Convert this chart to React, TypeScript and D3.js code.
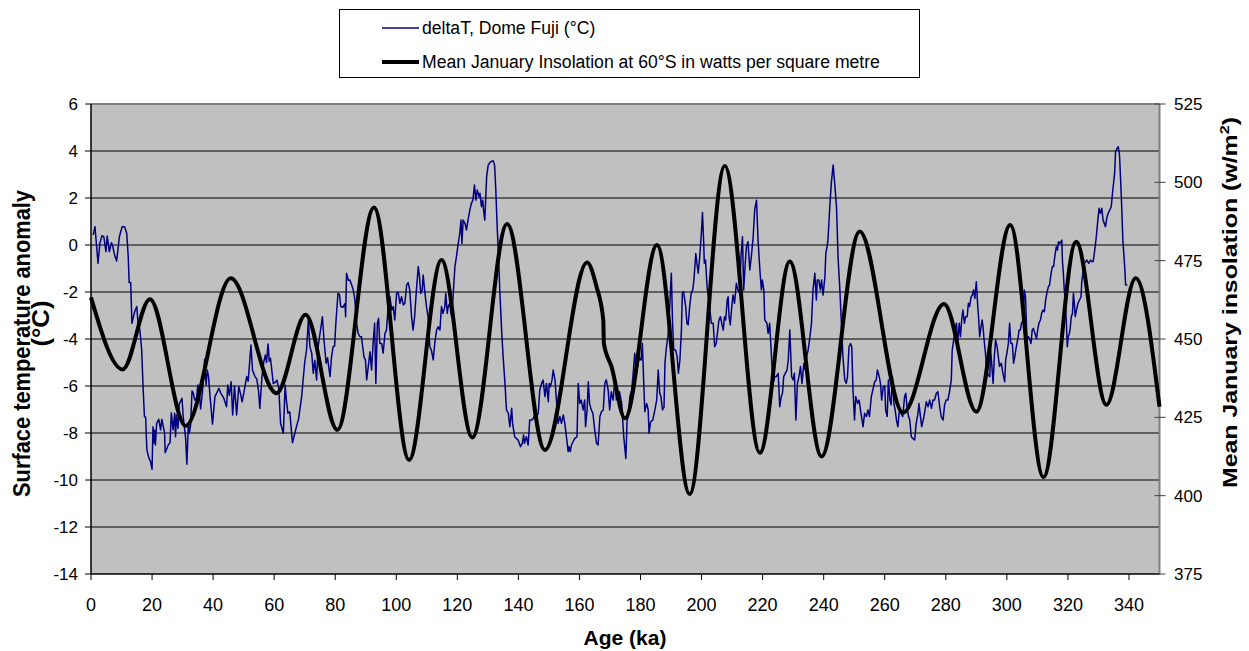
import React from "react";
import * as d3 from "d3";

// Dome Fuji temperature anomaly: [age in ka, deltaT in °C]
const deltaT: [number, number][] = [
  [0.75,0.43],[1.3,0.78],[2.3,-0.78],[2.9,0.07],[3.6,0.4],[4.2,0.35],[4.9,-0.28],[5.3,0.38],[6.0,-0.28],[6.7,0.1],[7.1,-0.03],[7.6,-0.36],[8.4,-0.68],[9.3,0.35],[10.2,0.78],[11.0,0.78],[11.7,0.5],[12.2,-0.5],[12.5,-1.6],[13.0,-1.6],[13.4,-3.33],[14.3,-2.84],[15.0,-2.62],[15.4,-3.33],[16.0,-3.6],
  [16.6,-4.47],[17.1,-6.17],[17.5,-7.3],[17.9,-7.33],[18.3,-8.72],[19.0,-9.08],[19.5,-9.22],[20.0,-9.54],[20.3,-7.73],[20.5,-8.44],[20.8,-7.87],[21.1,-8.51],[21.5,-7.59],[22.2,-7.42],[22.8,-7.87],[23.2,-7.42],[24.1,-7.98],[24.3,-8.84],[25.3,-8.51],[25.9,-8.41],[26.3,-7.14],[26.9,-7.87],[27.4,-7.16],[27.7,-8.16],[28.0,-7.23],[28.5,-7.8],[28.9,-6.77],[29.8,-6.52],[30.2,-7.3],[31.0,-8.23],[31.4,-9.33],[31.9,-7.59],[32.2,-8.0],[32.6,-7.7],[33.1,-6.21],[33.5,-6.3],[34.0,-6.6],[34.6,-6.5],[35.0,-5.96],[35.4,-6.1],[35.9,-6.98],[36.4,-6.4],[37.0,-5.46],[37.2,-4.86],[37.7,-5.96],[38.1,-5.32],[38.5,-5.6],[39.0,-6.45],[39.8,-7.62],[40.6,-6.45],[41.4,-6.24],[41.9,-6.1],[42.5,-6.3],[43.5,-6.52],[44.4,-6.88],[44.8,-5.96],[45.3,-6.4],[45.9,-5.82],[46.4,-7.23],[47.0,-6.0],[47.7,-7.23],[48.4,-6.03],[49.1,-6.4],[49.5,-6.67],[50.2,-6.2],[51.0,-5.6],[51.5,-5.8],[52.1,-4.75],[52.4,-4.26],[52.9,-5.32],[53.7,-5.6],[54.3,-5.7],[54.9,-6.24],[55.3,-6.95],[56.0,-5.6],[56.6,-4.97],[57.1,-4.68],[57.5,-5.0],[58.0,-4.21],[58.4,-4.95],[58.8,-4.82],[59.7,-5.89],[60.3,-5.85],[60.9,-5.75],[61.5,-6.1],[62.1,-7.59],[63.0,-8.01],[63.6,-5.96],[64.0,-6.6],[64.5,-7.16],[65.1,-7.1],[66.0,-8.41],[66.6,-8.1],[67.3,-7.73],[68.0,-7.4],[69.0,-6.45],[70.0,-5.0],[70.6,-4.47],[71.2,-3.19],[71.7,-4.33],[72.3,-4.6],[72.8,-5.46],[73.3,-4.9],[73.9,-5.74],
  [74.4,-4.33],[75.8,-3.05],[76.3,-4.0],[77.0,-5.03],[77.5,-4.8],[78.0,-5.32],[78.3,-5.6],[78.8,-4.75],[79.3,-4.33],[79.8,-4.3],[80.2,-3.33],[80.9,-2.06],[81.4,-2.1],[81.8,-2.62],[82.5,-2.65],[83.2,-2.5],[83.4,-3.05],[83.7,-1.2],[84.3,-1.5],[84.8,-1.49],[85.4,-1.7],[85.9,-1.91],[86.4,-2.3],[87.0,-3.33],[87.5,-3.76],[88.1,-3.9],[88.6,-3.9],[89.0,-4.33],[89.4,-4.75],[89.9,-4.9],[90.3,-5.74],[90.8,-5.2],[91.4,-4.54],[91.9,-5.32],[92.4,-4.19],[92.9,-3.33],[93.3,-5.89],[93.8,-3.33],[94.2,-3.12],[94.6,-4.19],[95.2,-4.19],[95.7,-4.6],[96.3,-3.76],[96.8,-3.62],[97.4,-2.48],[97.9,-2.2],[98.5,-2.77],[99.0,-2.62],[99.5,-3.19],[100.1,-2.06],[100.6,-2.0],[101.2,-2.48],[101.7,-2.2],[102.3,-2.55],[102.8,-2.48],[103.4,-1.7],[103.9,-1.6],[104.4,-1.91],[105.0,-3.05],[105.5,-3.62],[106.0,-3.05],[106.6,-1.91],[107.2,-0.92],[107.6,-1.35],[108.0,-2.06],[108.5,-1.9],[108.8,-1.28],[109.4,-2.06],[109.9,-2.62],[110.4,-3.05],[111.0,-4.33],[111.5,-4.47],[112.1,-4.89],[112.6,-4.19],[113.2,-3.62],[113.7,-3.48],[114.3,-3.62],[114.8,-2.62],[115.3,-2.91],[115.9,-2.62],[116.2,-2.06],[116.7,-2.91],[117.0,-2.62],[117.5,-2.48],[118.1,-3.05],[118.6,-2.2],[119.2,-0.92],[119.7,-0.5],[120.3,0.07],[120.8,0.5],[121.2,1.06],[121.5,0.07],[121.9,1.06],[122.5,0.92],[123.0,0.64],[123.5,1.06],[124.1,1.49],[124.6,1.77],[125.1,1.91],[125.6,2.55],[126.1,1.91],[126.5,2.34],[127.1,2.06],[127.4,2.2],[127.9,1.63],[128.3,1.91],[128.7,1.35],[129.0,1.06],[129.6,2.91],[130.1,3.4],[130.9,3.54],[131.7,3.59],[132.2,3.4],[132.6,2.34],[133.0,0.92],[133.5,-0.5],[133.9,-1.91],[134.5,-3.62],[135.0,-4.75],[135.6,-5.89],[136.1,-7.02],[136.7,-7.16],[137.2,-7.73],[137.8,-6.95],[138.1,-7.6],[138.8,-8.16],[139.3,-8.23],[139.9,-8.3],[140.7,-8.58],[141.3,-8.44],[141.7,-8.09],[142.0,-8.44],[142.6,-8.16],[143.2,-8.51],[143.7,-7.45],[144.3,-7.45],[144.8,-7.4],[145.4,-7.23],[146.0,-7.3],[146.5,-7.16],[147.0,-6.17],[147.6,-5.89],[148.1,-5.75],[148.7,-6.45],[149.2,-5.89],[149.8,-6.67],[150.1,-5.89],[150.5,-6.03],[151.0,-5.75],[151.4,-5.32],[152.0,-5.75],[152.5,-6.67],[153.0,-7.59],[153.6,-7.3],[154.1,-7.59],[154.7,-7.23],[155.2,-7.59],[155.8,-8.23],[156.3,-8.79],[156.6,-8.58],[157.0,-8.79],[157.4,-8.51],[157.9,-8.37],[158.5,-8.23],[159.2,-8.16],[159.6,-5.89],[160.1,-6.74],[160.6,-6.6],[161.2,-7.02],[161.7,-6.6],[162.0,-7.73],[162.5,-7.02],[162.9,-5.82],[163.3,-6.74],[163.9,-7.02],[164.4,-7.16],[165.0,-7.87],[165.6,-8.44],[166.1,-8.51],[166.7,-7.3],[167.2,-7.1],[167.8,-7.02],[168.3,-5.89],[168.8,-5.74],[169.4,-6.17],[169.9,-7.02],[170.4,-6.24],[171.0,-6.6],[171.6,-5.74],[172.1,-6.6],[172.6,-6.24],[173.1,-6.24],[173.8,-6.7],[174.1,-7.3],[174.5,-8.16],[175.2,-9.08],[175.6,-7.45],[176.0,-7.3],[176.5,-6.45],[177.1,-6.17],[177.6,-5.46],[178.1,-4.61],[178.7,-5.46],[179.2,-5.03],[179.7,-4.8],[180.2,-4.9],[180.6,-4.19],[180.9,-5.3],[181.4,-7.09],[182.0,-6.74],[182.5,-7.0],[182.8,-8.01],[183.3,-7.52],[184.0,-7.45],[184.7,-7.02],[185.3,-6.6],[185.8,-5.32],[186.3,-6.31],[186.7,-6.45],[187.2,-7.02],[187.7,-6.9],[188.0,-5.03],[188.5,-4.33],[189.0,-3.9],[189.5,-2.8],[190.1,-1.2],[190.5,-3.33],[190.9,-4.47],[191.5,-4.47],[192.0,-4.75],[192.4,-5.46],[192.9,-4.9],[193.4,-3.62],[193.7,-2.06],[194.1,-1.98],[194.8,-2.62],[195.2,-3.33],[195.6,-3.4],[196.1,-2.62],[196.6,-2.06],[197.1,-1.91],[197.5,-1.49],[198.1,-0.36],[198.5,-0.78],[198.9,-1.2],[199.4,-0.5],[200.0,0.64],[200.3,1.38],[200.7,0.07],[200.9,-0.78],[201.3,-0.64],[201.8,-1.77],[202.2,-2.2],[202.6,-2.62],[203.2,-3.33],[203.8,-3.33],[204.3,-4.33],[204.8,-4.19],[205.3,-3.62],[205.7,-3.19],[206.2,-3.05],[206.6,-3.33],[207.1,-3.62],[207.5,-3.05],[207.9,-3.19],[208.4,-2.34],[208.7,-2.2],[209.0,-3.05],[209.4,-3.4],[209.9,-2.62],[210.3,-2.13],[210.8,-2.48],[211.4,-1.63],[211.9,-1.91],[212.5,-2.06],[212.9,-0.5],[213.4,0.35],[213.8,-1.91],[214.3,-0.78],[214.7,-0.07],[215.2,0.14],[215.8,-1.06],[216.3,-0.5],[216.9,0.35],[217.4,1.49],[218.0,1.91],[218.5,0.21],[219.1,-1.06],[219.6,-1.91],[219.9,-1.49],[220.4,-1.91],[220.7,-3.19],[221.4,-3.33],[221.8,-3.76],[222.3,-3.33],[222.9,-4.75],[223.4,-5.89],[224.0,-5.6],[224.5,-5.6],[225.1,-5.46],[225.6,-6.88],[226.1,-6.45],[226.5,-6.31],[226.9,-5.6],[227.4,-5.46],[228.0,-5.32],[228.4,-4.89],[228.9,-3.62],[229.5,-5.6],[230.0,-5.74],[230.4,-5.46],[230.9,-7.45],[231.4,-5.89],[231.9,-5.6],[232.4,-5.17],[232.9,-5.89],[233.5,-5.03],[234.0,-5.32],[234.4,-4.75],[234.9,-4.47],[235.5,-3.9],[236.0,-3.33],[236.5,-1.91],[237.1,-1.2],[237.6,-2.34],[237.9,-1.49],[238.4,-1.49],[238.9,-1.91],[239.3,-1.49],[239.8,-2.13],[240.4,-1.35],[240.7,-0.36],[241.1,-0.07],[241.4,0.21],[242.0,1.63],[242.5,2.63],[243.1,3.4],[243.6,2.63],[244.2,1.63],[244.7,-0.5],[245.3,-1.91],[245.8,-3.33],[246.3,-4.75],[246.9,-5.74],[247.4,-5.89],[247.8,-5.6],[248.3,-4.33],[248.8,-4.19],[249.2,-4.33],[249.6,-6.17],[250.1,-7.45],[250.5,-6.45],[251.1,-6.74],[251.6,-6.6],[252.2,-7.16],[252.9,-7.73],[253.4,-7.16],[254.0,-7.3],[254.5,-7.02],[255.0,-7.3],[255.6,-6.45],[256.1,-6.17],[256.7,-5.82],[257.2,-5.75],[257.6,-5.32],[258.2,-5.6],[258.6,-5.89],[259.0,-6.6],[259.5,-6.03],[260.0,-6.0],[260.3,-7.02],[260.8,-7.3],[261.2,-5.74],[261.7,-6.6],[262.1,-6.8],[262.5,-5.6],[263.0,-6.74],[263.4,-7.02],[263.9,-7.5],[264.3,-7.73],[264.8,-7.02],[265.3,-7.16],[265.9,-7.3],[266.5,-6.45],[266.9,-6.31],[267.3,-6.9],[267.8,-7.3],[268.2,-7.45],[268.7,-8.16],[269.2,-8.23],[269.8,-8.3],[270.3,-7.59],[270.9,-7.16],[271.2,-6.74],[271.7,-7.3],[272.1,-7.73],[272.6,-7.45],[273.1,-7.1],[273.6,-6.67],[274.2,-6.88],[274.7,-6.6],[275.3,-6.95],[275.8,-6.6],[276.3,-6.6],[276.9,-6.31],[277.4,-6.24],[278.0,-6.88],[278.5,-7.3],[279.1,-7.45],[279.6,-6.81],[280.1,-6.6],[280.7,-6.6],[281.3,-6.17],[281.8,-5.74],[282.1,-4.47],[282.6,-4.04],[283.0,-3.62],[283.5,-3.33],[283.9,-4.19],[284.4,-3.33],[284.8,-3.9],[285.2,-3.19],[285.6,-2.77],[286.1,-3.33],[286.5,-3.05],[287.0,-3.05],[287.4,-2.48],[287.8,-2.62],[288.3,-2.2],[288.7,-2.13],[289.1,-1.91],[289.5,-2.27],[290.0,-1.56],[290.4,-2.48],[290.8,-3.19],[291.1,-3.9],[291.4,-3.62],[291.9,-3.19],[292.2,-3.48],[292.5,-3.98],[293.0,-4.61],[293.3,-5.17],[293.8,-5.53],[294.4,-5.6],[294.7,-4.47],[295.1,-5.17],[295.5,-5.89],[295.9,-4.75],[296.3,-4.04],[296.8,-4.33],[297.2,-4.75],[297.6,-5.17],[298.2,-5.03],[298.7,-5.46],[299.3,-5.82],[299.6,-4.9],[300.0,-4.61],[300.5,-4.19],[300.9,-3.33],[301.3,-4.19],[301.8,-4.19],[302.2,-5.03],[302.6,-4.75],[303.1,-4.33],[303.7,-3.9],[304.0,-3.62],[304.4,-3.62],[304.8,-3.33],[305.3,-3.19],[305.7,-1.91],[306.1,-2.2],[306.6,-4.04],[307.0,-3.9],[307.4,-3.98],[307.9,-4.19],[308.3,-3.62],[308.7,-3.55],[309.2,-3.76],[309.7,-3.98],[310.1,-3.62],[310.5,-3.33],[311.0,-3.19],[311.4,-2.91],[311.8,-2.77],[312.3,-2.84],[312.7,-2.34],[313.1,-2.06],[313.6,-1.77],[314.0,-1.7],[314.4,-1.28],[314.9,-0.92],[315.3,-0.92],[315.7,-0.5],[316.2,-0.07],[316.6,-0.21],[316.9,0.14],[317.4,0.07],[318.0,0.21],[318.2,-0.64],[318.5,-1.2],[318.8,-1.91],[319.2,-2.48],[319.5,-3.33],[319.8,-4.33],[320.1,-3.9],[320.5,-3.76],[320.8,-3.48],[321.1,-3.05],[321.5,-2.91],[321.8,-2.06],[322.1,-2.48],[322.4,-3.05],[322.8,-2.77],[323.3,-2.48],[323.8,-2.34],[324.3,-2.2],[324.5,-1.63],[324.9,-1.2],[325.4,-0.78],[326.2,-0.64],[326.8,-0.78],[327.4,-0.64],[327.9,-0.71],[328.3,-0.7],[328.8,-0.21],[329.3,0.35],[329.8,1.06],[330.2,1.56],[330.6,1.35],[331.1,1.56],[331.5,1.06],[331.9,0.92],[332.3,0.78],[332.8,1.2],[333.2,1.35],[333.7,1.49],[334.2,1.63],[334.7,2.34],[335.3,3.05],[335.6,3.97],[336.1,4.11],[336.5,4.18],[336.9,3.83],[337.5,2.06],[338.0,0.21],[338.6,-0.92],[338.9,-1.7],[339.5,-1.7],
];

// Mean January insolation at 60°S: [age in ka, W/m²] at turning points and bends
const insolation: [number, number][] = [
  [0,463.3],[10.4,440.3],[19.3,462.7],[31.0,422.3],[45.8,469.4],[60.8,432.7],[70.3,457.7],[80.7,421.0],[92.7,492.0],[104.2,411.4],[114.8,475.2],[124.9,418.6],[136.3,486.7],[148.7,414.6],[162.5,474.4],[165.5,467.0],[167.8,456.1],[168.0,448.6],[170.5,441.2],[174.9,424.7],[185.4,480.0],[196.1,400.5],[207.6,505.2],[219.1,413.7],[228.9,474.7],[239.3,412.5],[251.8,484.3],[266.0,426.5],[279.4,461.2],[290.0,426.8],[301.1,486.4],[312.0,405.9],[322.7,481.0],[332.6,429.0],[342.2,469.4],[350,428.4],
];

const ageTicks = d3.range(0, 341, 20);
const tempTicks = d3.range(-14, 7, 2);
const insolationTicks = [375, 400, 425, 450, 475, 500, 525];

const legendLabels = ["deltaT, Dome Fuji (°C)", "Mean January Insolation at 60°S in watts per square metre"];

const W = 1249;
const H = 651;
const plot = { left: 91, right: 1159.5, top: 104, bottom: 574 };
const FONT = "'Liberation Sans', Arial, Helvetica, sans-serif";

export default function App() {
  const x = d3.scaleLinear().domain([0, 350]).range([plot.left, plot.right]);
  const yL = d3.scaleLinear().domain([-14, 6]).range([plot.bottom, plot.top]);
  const yR = d3.scaleLinear().domain([375, 525]).range([plot.bottom, plot.top]);

  const tempLine = d3.line<[number, number]>().x((d) => x(d[0])).y((d) => yL(d[1]));
  const insolLine = d3
    .line<[number, number]>()
    .x((d) => x(d[0]))
    .y((d) => yR(d[1]))
    .curve(d3.curveMonotoneX);

  return (
    <svg
      width={W}
      height={H}
      style={{ position: "absolute", left: 0, top: 0, background: "#fff" }}
      fontFamily={FONT}
    >
      <rect x={0} y={0} width={W} height={H} fill="#fff" />
      {/* plot area */}
      <rect x={plot.left} y={plot.top} width={plot.right - plot.left} height={plot.bottom - plot.top} fill="#C0C0C0" />
      {tempTicks
        .filter((t) => t > -14 && t < 6)
        .map((t) => (
          <line key={t} x1={plot.left} x2={plot.right} y1={yL(t)} y2={yL(t)} stroke="#000" strokeWidth={1} />
        ))}
      <line x1={plot.left} x2={plot.right} y1={plot.top} y2={plot.top} stroke="#808080" strokeWidth={2} />
      <line x1={plot.right} x2={plot.right} y1={plot.top} y2={plot.bottom} stroke="#808080" strokeWidth={2} />

      {/* series */}
      <path d={tempLine(deltaT) ?? ""} fill="none" stroke="#000080" strokeWidth={1.5} strokeLinejoin="round" />
      <path d={insolLine(insolation) ?? ""} fill="none" stroke="#000" strokeWidth={4} strokeLinejoin="round" />

      {/* left axis */}
      <line x1={plot.left} x2={plot.left} y1={plot.top} y2={plot.bottom} stroke="#000" strokeWidth={1.5} />
      {tempTicks.map((t) => (
        <g key={t}>
          <line x1={plot.left - 6} x2={plot.left} y1={yL(t)} y2={yL(t)} stroke="#000" />
          <text x={78} y={yL(t)} dy="0.35em" textAnchor="end" fontSize={17}>
            {t}
          </text>
        </g>
      ))}

      {/* bottom axis */}
      <line x1={plot.left} x2={plot.right} y1={plot.bottom} y2={plot.bottom} stroke="#000" strokeWidth={1.5} />
      {ageTicks.map((t) => (
        <g key={t}>
          <line x1={x(t)} x2={x(t)} y1={plot.bottom} y2={plot.bottom + 6} stroke="#000" />
          <text x={x(t)} y={611} textAnchor="middle" fontSize={18}>
            {t}
          </text>
        </g>
      ))}

      {/* right axis */}
      {insolationTicks.map((t) => (
        <g key={t}>
          <line x1={plot.right - 5} x2={plot.right + 6} y1={yR(t)} y2={yR(t)} stroke="#404040" />
          <text x={1174} y={yR(t)} dy="0.35em" textAnchor="start" fontSize={17}>
            {t}
          </text>
        </g>
      ))}

      {/* axis titles */}
      <text x={625} y={645} textAnchor="middle" fontSize={21} fontWeight="bold">
        Age (ka)
      </text>
      <text
        transform="translate(30,343.5) rotate(-90)"
        textAnchor="middle"
        fontSize={23}
        fontWeight="bold"
        textLength={307}
        lengthAdjust="spacingAndGlyphs"
      >
        Surface temperature anomaly
      </text>
      <text
        transform="translate(49,323.5) rotate(-90)"
        textAnchor="middle"
        fontSize={23}
        fontWeight="bold"
        textLength={46}
        lengthAdjust="spacingAndGlyphs"
      >
        (°C)
      </text>
      <text
        transform="translate(1237,302.5) rotate(-90)"
        textAnchor="middle"
        fontSize={20}
        fontWeight="bold"
        textLength={371}
        lengthAdjust="spacingAndGlyphs"
      >
        Mean January insolation (w/m
        <tspan dy={-8} fontSize={13}>2</tspan>
        <tspan dy={8}>)</tspan>
      </text>

      {/* legend */}
      <rect x={339.5} y={9.5} width={580} height={68} fill="#fff" stroke="#000" strokeWidth={1} />
      <line x1={382} x2={419} y1={28} y2={28} stroke="#000080" strokeWidth={1.5} />
      <text x={422} y={28} dy="0.35em" fontSize={17.6}>
        {legendLabels[0]}
      </text>
      <line x1={382} x2={419} y1={62} y2={62} stroke="#000" strokeWidth={4} />
      <text x={422} y={62} dy="0.35em" fontSize={17.6}>
        {legendLabels[1]}
      </text>
    </svg>
  );
}
